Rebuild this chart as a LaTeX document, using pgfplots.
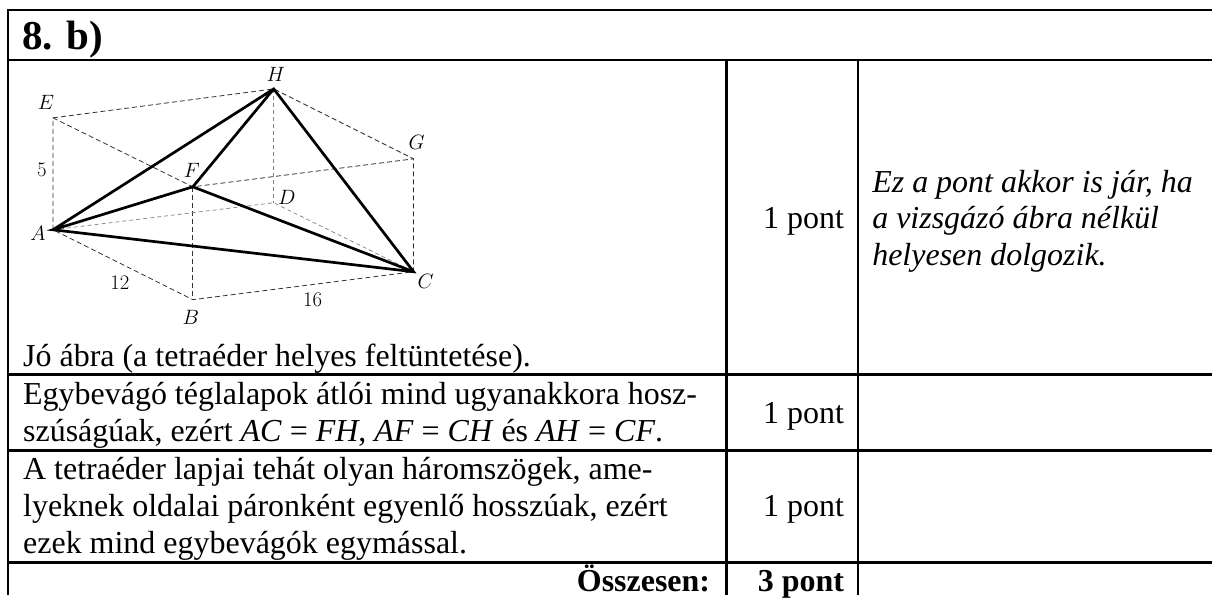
\documentclass[border=0pt]{standalone}
\usepackage{pgfplots}
\pgfplotsset{compat=1.18}
\usepackage{fontspec}
\setmainfont{Liberation Serif}
\newcommand{\body}{\fontsize{32}{36}\selectfont}
\pgfplotsset{
  tblrule/.style={black,line width=2.5pt,no markers,forget plot},
  boxdash/.style={black!80,line width=0.8pt,dash pattern=on 5pt off 3pt,no markers,forget plot},
  boxfaint/.style={black!50,line width=0.7pt,dash pattern=on 4pt off 3pt,no markers,forget plot},
  tetra/.style={black,line width=2.7pt,no markers,forget plot},
}
\tikzset{
  lab/.style={inner sep=0pt,font=\fontsize{20.7}{24}\selectfont},
  txt/.style={inner sep=0pt,anchor=base west,font=\body},
}
\begin{document}
\begin{tikzpicture}
\begin{axis}[
  scale only axis,width=1213pt,height=596pt,
  xmin=0,xmax=1213,ymin=0,ymax=596,y dir=reverse,
  hide axis,clip=false,
]
% table rules
\addplot[tblrule] coordinates {(8,10) (1213,10)};
\addplot[tblrule] coordinates {(8,60) (1213,60)};
\addplot[tblrule] coordinates {(8,375) (1213,375)};
\addplot[tblrule] coordinates {(8,451) (1213,451)};
\addplot[tblrule] coordinates {(8,563) (1213,563)};
\addplot[tblrule] coordinates {(8,9) (8,596)};
\addplot[tblrule] coordinates {(727,60) (727,596)};
\addplot[tblrule] coordinates {(859,60) (859,596)};
% box edges
\addplot[boxdash] coordinates {(53,230) (53,118) (274,89) (414,159) (414,272) (193,300) (53,230)};
\addplot[boxdash] coordinates {(53,118) (193,187) (414,159)};
\addplot[boxdash] coordinates {(193,187) (193,300)};
\addplot[boxfaint] coordinates {(53,230) (274,203) (414,272)};
\addplot[boxfaint] coordinates {(274,89) (274,203)};
% tetrahedron
\addplot[tetra] coordinates {(53,230) (274,89) (414,272) (53,230) (193,187) (274,89)};
\addplot[tetra] coordinates {(193,187) (414,272)};
% vertex labels
\node[lab] at (axis cs:276,74) {$H$};
\node[lab] at (axis cs:46,103) {$E$};
\node[lab] at (axis cs:417,143) {$G$};
\node[lab] at (axis cs:192,171) {$F$};
\node[lab] at (axis cs:287,198) {$D$};
\node[lab] at (axis cs:38,234) {$A$};
\node[lab] at (axis cs:426,282) {$C$};
\node[lab] at (axis cs:191,318) {$B$};
\node[lab] at (axis cs:42,170) {$5$};
\node[lab] at (axis cs:120,283) {$12$};
\node[lab] at (axis cs:313,300) {$16$};
% text
\node[txt,font=\bfseries\fontsize{41}{46}\selectfont] at (axis cs:22,50) {8. b)};
\node[txt] at (axis cs:23,367) {Jó ábra (a tetraéder helyes feltüntetése).};
\node[txt] at (axis cs:23,405) {Egybevágó téglalapok átlói mind ugyanakkora hosz-};
\node[txt] at (axis cs:23,442) {szúságúak, ezért \textit{AC} = \textit{FH}, \textit{AF} = \textit{CH} és \textit{AH} = \textit{CF}.};
\node[txt] at (axis cs:23,480) {A tetraéder lapjai tehát olyan háromszögek, ame-};
\node[txt] at (axis cs:23,517) {lyeknek oldalai páronként egyenlő hosszúak, ezért};
\node[txt] at (axis cs:23,554) {ezek mind egybevágók egymással.};
\node[txt,anchor=base east] at (axis cs:845,229) {1 pont};
\node[txt,anchor=base east] at (axis cs:845,424) {1 pont};
\node[txt,anchor=base east] at (axis cs:845,517) {1 pont};
\node[txt,anchor=base east,font=\bfseries\body] at (axis cs:711,592) {Összesen:};
\node[txt,anchor=base east,font=\bfseries\body] at (axis cs:845,592) {3 pont};
\node[txt,font=\itshape\body] at (axis cs:873,193) {Ez a pont akkor is jár, ha};
\node[txt,font=\itshape\body] at (axis cs:873,229) {a vizsgázó ábra nélkül};
\node[txt,font=\itshape\body] at (axis cs:873,266) {helyesen dolgozik.};
\path (axis cs:0,0) rectangle (axis cs:1213,596);
\end{axis}
\end{tikzpicture}
\end{document}
